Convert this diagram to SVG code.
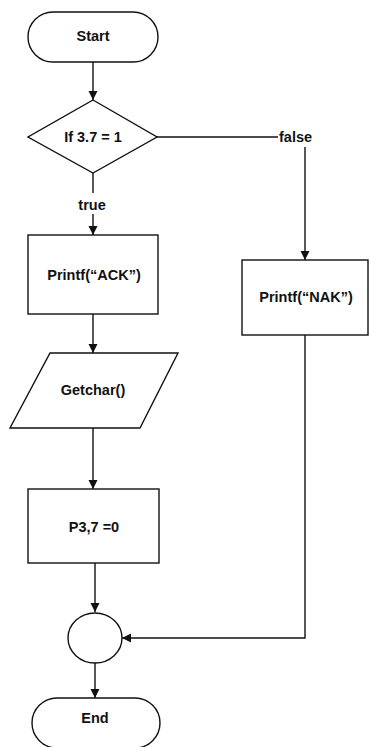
<svg xmlns="http://www.w3.org/2000/svg" width="370" height="747" viewBox="0 0 370 747">
<style>
.shape{fill:#fff;stroke:#111;stroke-width:1.4}
.conn{fill:none;stroke:#111;stroke-width:1.4}
.t{font-family:"Liberation Sans",Arial,sans-serif;font-size:14.5px;font-weight:bold;fill:#111;text-anchor:middle}
.lbl{font-family:"Liberation Sans",Arial,sans-serif;font-size:14.5px;font-weight:bold;fill:#111}
</style>
<defs>
<marker id="arr" viewBox="0 0 10 10" refX="10" refY="5" markerWidth="9" markerHeight="11" markerUnits="userSpaceOnUse" orient="auto">
<path d="M0,0 L10,5 L0,10 z" fill="#111"/>
</marker>
</defs>
<rect width="370" height="747" fill="#fff"/>
<g id="connectors">
<path class="conn" d="M93,62 V100" marker-end="url(#arr)"/>
<path class="conn" d="M93,173 V193"/>
<path class="conn" d="M93,214 V235" marker-end="url(#arr)"/>
<path class="conn" d="M157,137 H278"/>
<path class="conn" d="M305,147 V260" marker-end="url(#arr)"/>
<path class="conn" d="M93,314 V353" marker-end="url(#arr)"/>
<path class="conn" d="M93,428 V489" marker-end="url(#arr)"/>
<path class="conn" d="M95,563 V612" marker-end="url(#arr)"/>
<path class="conn" d="M305,335 V638 H122" marker-end="url(#arr)"/>
<path class="conn" d="M95,663 V698" marker-end="url(#arr)"/>
<text class="lbl" x="92" y="210" text-anchor="middle">true</text>
<text class="lbl" x="279" y="142">false</text>
</g>
<g id="start">
<rect class="shape" x="28" y="12" width="130" height="50" rx="25" ry="25"/>
<text class="t" x="93" y="41">Start</text>
</g>
<g id="decision">
<polygon class="shape" points="93,100 157,137 93,173 28,137"/>
<text class="t" x="93" y="142">If 3.7 = 1</text>
</g>
<g id="printAck">
<rect class="shape" x="28" y="235" width="130" height="79"/>
<text class="t" x="94" y="280">Printf(“ACK”)</text>
</g>
<g id="printNak">
<rect class="shape" x="242" y="260" width="126" height="75"/>
<text class="t" x="306" y="302">Printf(“NAK”)</text>
</g>
<g id="getchar">
<polygon class="shape" points="50,353 178,353 140,428 10,428"/>
<text class="t" x="93" y="395">Getchar()</text>
</g>
<g id="assign">
<rect class="shape" x="28" y="489" width="131" height="74"/>
<text class="t" x="94" y="532">P3,7 =0</text>
</g>
<g id="connector">
<ellipse class="shape" cx="95" cy="638" rx="27" ry="25"/>
</g>
<g id="end">
<rect class="shape" x="32" y="698" width="128" height="50" rx="25" ry="25"/>
<text class="t" x="95" y="723">End</text>
</g>
</svg>
